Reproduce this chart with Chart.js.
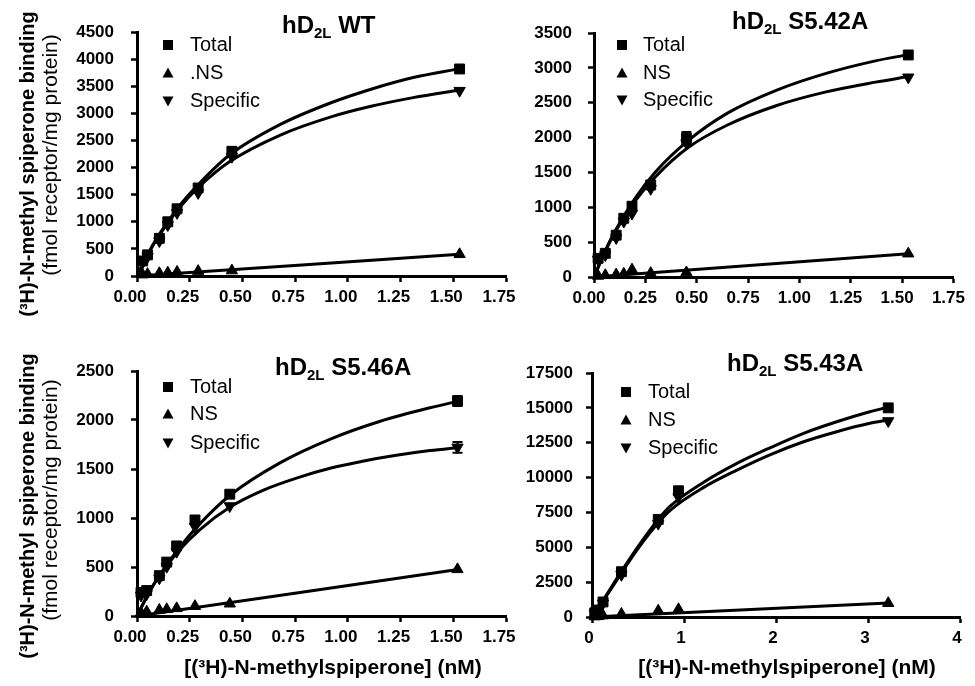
<!DOCTYPE html>
<html>
<head>
<meta charset="utf-8">
<script src="https://cdn.jsdelivr.net/npm/chart.js@4.4.1/dist/chart.umd.min.js"></script>
<style>
  html, body { margin: 0; padding: 0; background: #fff; }
  #wrap { position: relative; width: 975px; height: 686px; overflow: hidden; }
  canvas { position: absolute; }
</style>
</head>
<body>
<div id="wrap">
  <canvas id="c1" width="540" height="330" style="left:0px;top:0px;"></canvas>
  <canvas id="c2" width="505" height="330" style="left:470px;top:0px;"></canvas>
  <canvas id="c3" width="540" height="356" style="left:0px;top:330px;"></canvas>
  <canvas id="c4" width="505" height="356" style="left:470px;top:330px;"></canvas>
</div>
<script>
// hD2L WT
const wtConc = [0.027, 0.05, 0.106, 0.146, 0.19, 0.29, 0.45, 1.53];
const wtTotal = [277, 390, 695, 1000, 1240, 1623, 2300, 3818];
const wtNS = [25, 35, 50, 60, 75, 90, 100, 400];
const wtSpecific = [250, 355, 645, 940, 1165, 1533, 2200, 3418];
const wtTotalErr = [0, 0, 0, 0, 0, 0, 70, 0];
const wtFitConc = [0, 0.05, 0.1, 0.2, 0.3, 0.44, 0.68, 0.92, 1.11, 1.31, 1.53];
const wtTotalFit = [0, 395, 735, 1290, 1725, 2235, 2795, 3195, 3445, 3660, 3825];
const wtSpecificFit = [0, 385, 720, 1255, 1665, 2110, 2600, 2935, 3130, 3290, 3430];
const wtNSFitConc = [0, 1.53];
const wtNSFit = [0, 400];

// hD2L S5.42A
const s42Conc = [0.02, 0.055, 0.108, 0.145, 0.185, 0.276, 0.45, 1.53];
const s42Total = [268, 340, 600, 842, 1015, 1320, 1990, 3185];
const s42NS = [15, 25, 35, 45, 105, 55, 65, 335];
const s42Specific = [250, 315, 560, 795, 910, 1265, 1920, 2865];
const s42TotalErr = [0, 0, 0, 0, 0, 0, 90, 0];
const s42FitConc = [0, 0.05, 0.1, 0.2, 0.3, 0.46, 0.65, 0.89, 1.13, 1.37, 1.53];
const s42TotalFit = [0, 345, 645, 1130, 1510, 1960, 2350, 2680, 2920, 3100, 3190];
const s42SpecificFit = [0, 335, 630, 1090, 1440, 1860, 2180, 2460, 2655, 2795, 2875];
const s42NSFitConc = [0, 1.53];
const s42NSFit = [0, 335];

// hD2L S5.46A
const s46Conc = [0.019, 0.046, 0.106, 0.141, 0.188, 0.275, 0.44, 1.52];
const s46Total = [240, 260, 412, 550, 715, 980, 1243, 2194];
const s46NS = [34, 44, 61, 68, 78, 100, 125, 476];
const s46Specific = [210, 225, 385, 503, 656, 911, 1122, 1721];
const s46TotalErr = [0, 0, 0, 0, 0, 0, 0, 50];
const s46SpecificErr = [0, 0, 0, 0, 0, 0, 0, 55];
const s46TotalFitConc = [0, 0.05, 0.1, 0.2, 0.3, 0.44, 0.68, 0.92, 1.15, 1.39, 1.53];
const s46TotalFit = [0, 212, 395, 695, 945, 1230, 1565, 1808, 1985, 2125, 2195];
const s46SpecificFitConc = [0, 0.05, 0.1, 0.2, 0.3, 0.44, 0.6, 0.76, 0.92, 1.07, 1.23, 1.39, 1.53];
const s46SpecificFit = [0, 210, 390, 670, 885, 1110, 1285, 1410, 1510, 1580, 1640, 1688, 1721];
const s46NSFitConc = [0, 1.53];
const s46NSFit = [0, 476];

// hD2L S5.43A
const s43Conc = [0.03, 0.07, 0.12, 0.32, 0.72, 0.94, 3.22];
const s43Total = [300, 500, 1080, 3250, 7000, 9050, 15000];
const s43NS = [30, 50, 100, 215, 450, 550, 990];
const s43Specific = [270, 450, 980, 3030, 6700, 8600, 14060];
const s43TotalErr = [0, 0, 0, 0, 0, 300, 0];
const s43FitConc = [0, 0.12, 0.32, 0.5, 0.72, 0.85, 1.21, 1.57, 1.94, 2.3, 2.66, 3.02, 3.22];
const s43TotalFit = [0, 1200, 3270, 5050, 7000, 7950, 9650, 11000, 12150, 13175, 14000, 14720, 15050];
const s43SpecificFit = [0, 1150, 3150, 4900, 6750, 7650, 9280, 10520, 11650, 12570, 13290, 13890, 14130];
const s43NSFitConc = [0, 3.22];
const s43NSFit = [0, 1000];

const FONT = '"Liberation Sans", Arial, Helvetica, sans-serif';

function pts(xs, ys) {
    return xs.map((x, i) => ({ x: x, y: ys[i] }));
}

// titles, legend, axis titles
const deco = {
    id: 'deco',
    afterDraw(chart, args, o) {
        const ctx = chart.ctx;
        ctx.save();
        ctx.fillStyle = '#000';

        // title with subscript 2L
        ctx.textAlign = 'left';
        ctx.textBaseline = 'alphabetic';
        let x = o.titleX;
        ctx.font = 'bold 24px ' + FONT;
        ctx.fillText('hD', x, o.titleY);
        x += ctx.measureText('hD').width;
        ctx.font = 'bold 15px ' + FONT;
        ctx.fillText('2L', x, o.titleY + 5);
        x += ctx.measureText('2L').width;
        ctx.font = 'bold 24px ' + FONT;
        ctx.fillText(' ' + o.title, x, o.titleY);

        // legend
        ctx.textBaseline = 'middle';
        ctx.font = '20px ' + FONT;
        const items = chart.data.datasets.filter(d => d.label);
        items.forEach((d, i) => {
            const y = o.legendRows[i];
            const mx = o.legendX;
            ctx.beginPath();
            if (d.pointStyle === 'rect') {
                ctx.rect(mx - 5, y - 5, 10, 10);
            } else if (d.pointRotation === 180) {
                ctx.moveTo(mx - 5.5, y - 4.5);
                ctx.lineTo(mx + 5.5, y - 4.5);
                ctx.lineTo(mx, y + 5.5);
            } else {
                ctx.moveTo(mx - 5.5, y + 4.5);
                ctx.lineTo(mx + 5.5, y + 4.5);
                ctx.lineTo(mx, y - 5.5);
            }
            ctx.closePath();
            ctx.fill();
            ctx.fillText(d.label, o.legendTextX, y);
        });

        // y axis title (two lines)
        if (o.yTitle) {
            ctx.textAlign = 'center';
            ctx.save();
            ctx.translate(o.yTitle[0], o.yTitle[1]);
            ctx.rotate(-Math.PI / 2);
            ctx.font = 'bold 20px ' + FONT;
            ctx.fillText('(\u00B3H)-N-methyl spiperone binding', 0, 0);
            ctx.restore();
            ctx.save();
            ctx.translate(o.yTitle[2], o.yTitle[3]);
            ctx.rotate(-Math.PI / 2);
            ctx.font = '21px ' + FONT;
            ctx.fillText('(fmol receptor/mg protein)', 0, 0);
            ctx.restore();
        }

        // x axis title
        if (o.xTitle) {
            ctx.textAlign = 'center';
            ctx.font = 'bold 21px ' + FONT;
            ctx.fillText('[(\u00B3H)-N-methylspiperone] (nM)', o.xTitle[0], o.xTitle[1]);
        }
        ctx.restore();
    }
};

// small error bars
const errorBars = {
    id: 'errorBars',
    afterDatasetsDraw(chart) {
        const ctx = chart.ctx;
        const ys = chart.scales.y;
        ctx.save();
        ctx.strokeStyle = '#000';
        ctx.lineWidth = 2;
        chart.data.datasets.forEach((d, di) => {
            if (!d.errors) return;
            const meta = chart.getDatasetMeta(di);
            meta.data.forEach((p, i) => {
                const e = d.errors[i];
                if (!e) return;
                const v = d.data[i].y;
                const y1 = ys.getPixelForValue(v + e);
                const y2 = ys.getPixelForValue(v - e);
                ctx.beginPath();
                ctx.moveTo(p.x, y1); ctx.lineTo(p.x, y2);
                ctx.moveTo(p.x - 5, y1); ctx.lineTo(p.x + 5, y1);
                ctx.moveTo(p.x - 5, y2); ctx.lineTo(p.x + 5, y2);
                ctx.stroke();
            });
        });
        ctx.restore();
    }
};

function makePanel(id, p) {
    const canvas = document.getElementById(id);
    const W = canvas.width, H = canvas.height;
    const marker = { backgroundColor: '#000', borderColor: '#000', pointBorderWidth: 1, showLine: false, clip: false };
    const fit = { showLine: true, pointRadius: 0, borderColor: '#000', borderWidth: 3, cubicInterpolationMode: 'monotone', fill: false };
    return new Chart(canvas, {
        type: 'scatter',
        data: {
            datasets: [
                Object.assign({ label: 'Total', data: pts(p.conc, p.total), pointStyle: 'rect', pointRadius: 7, errors: p.totalErr }, marker),
                Object.assign({ label: p.nsLabel, data: pts(p.conc, p.ns), pointStyle: 'triangle', pointRadius: 6.5 }, marker),
                Object.assign({ label: 'Specific', data: pts(p.conc, p.specific), pointStyle: 'triangle', pointRotation: 180, pointRadius: 6.5, errors: p.specificErr }, marker),
                Object.assign({ data: pts(p.totalFitConc, p.totalFit) }, fit),
                Object.assign({ data: pts(p.specificFitConc, p.specificFit) }, fit),
                Object.assign({ data: pts(p.nsFitConc, p.nsFit) }, fit)
            ]
        },
        options: {
            responsive: false,
            animation: false,
            events: [],
            layout: {
                autoPadding: false,
                padding: { left: 0, top: p.area[1], right: W - p.area[2], bottom: H - p.area[3] - 40 }
            },
            plugins: {
                legend: { display: false },
                tooltip: { enabled: false },
                deco: p.deco
            },
            scales: {
                x: {
                    type: 'linear',
                    min: 0,
                    max: p.xMax,
                    border: { color: '#000', width: 3 },
                    grid: { drawOnChartArea: false, color: '#000', tickColor: '#000', tickLength: 6, tickWidth: 2.5 },
                    ticks: {
                        stepSize: p.xStep,
                        autoSkip: false,
                        maxRotation: 0,
                        color: '#000',
                        padding: 5,
                        labelOffset: p.xLabelOffset,
                        font: { family: FONT, size: 17, weight: 'bold' },
                        callback: v => v.toFixed(p.xDec)
                    },
                    afterFit(s) { s.height = 40; }
                },
                y: {
                    type: 'linear',
                    min: 0,
                    max: p.yMax,
                    border: { color: '#000', width: 3 },
                    grid: { drawOnChartArea: false, color: '#000', tickColor: '#000', tickLength: 6, tickWidth: 2.5 },
                    ticks: {
                        stepSize: p.yStep,
                        autoSkip: false,
                        color: '#000',
                        padding: p.yPad,
                        font: { family: FONT, size: 17, weight: 'bold' },
                        callback: v => String(v)
                    },
                    afterFit(s) { s.width = p.area[0]; }
                }
            }
        },
        plugins: [errorBars, deco]
    });
}

makePanel('c1', {
    conc: wtConc, total: wtTotal, ns: wtNS, specific: wtSpecific, nsLabel: '.NS',
    totalErr: wtTotalErr,
    totalFitConc: wtFitConc, totalFit: wtTotalFit,
    specificFitConc: wtFitConc, specificFit: wtSpecificFit,
    nsFitConc: wtNSFitConc, nsFit: wtNSFit,
    xMax: 1.75, xStep: 0.25, xDec: 2, xLabelOffset: -7,
    yMax: 4500, yStep: 500, yPad: 17,
    area: [137, 32, 506, 276],
    deco: { title: 'WT', titleX: 282, titleY: 33, legendX: 168, legendTextX: 190, legendRows: [45, 73, 101], yTitle: [28, 164, 51, 155] }
});

makePanel('c2', {
    conc: s42Conc, total: s42Total, ns: s42NS, specific: s42Specific, nsLabel: 'NS',
    totalErr: s42TotalErr,
    totalFitConc: s42FitConc, totalFit: s42TotalFit,
    specificFitConc: s42FitConc, specificFit: s42SpecificFit,
    nsFitConc: s42NSFitConc, nsFit: s42NSFit,
    xMax: 1.75, xStep: 0.25, xDec: 2, xLabelOffset: -5,
    yMax: 3500, yStep: 500, yPad: 16,
    area: [124, 33, 490, 277],
    deco: { title: 'S5.42A', titleX: 262, titleY: 29, legendX: 152, legendTextX: 173, legendRows: [45, 73, 100] }
});

makePanel('c3', {
    conc: s46Conc, total: s46Total, ns: s46NS, specific: s46Specific, nsLabel: 'NS',
    totalErr: s46TotalErr, specificErr: s46SpecificErr,
    totalFitConc: s46TotalFitConc, totalFit: s46TotalFit,
    specificFitConc: s46SpecificFitConc, specificFit: s46SpecificFit,
    nsFitConc: s46NSFitConc, nsFit: s46NSFit,
    xMax: 1.75, xStep: 0.25, xDec: 2, xLabelOffset: -7,
    yMax: 2500, yStep: 500, yPad: 17,
    area: [137, 41, 506, 286],
    deco: { title: 'S5.46A', titleX: 275, titleY: 45, legendX: 168, legendTextX: 190, legendRows: [57, 84, 113], yTitle: [28, 176, 51, 170], xTitle: [333, 338] }
});

makePanel('c4', {
    conc: s43Conc, total: s43Total, ns: s43NS, specific: s43Specific, nsLabel: 'NS',
    totalErr: s43TotalErr,
    totalFitConc: s43FitConc, totalFit: s43TotalFit,
    specificFitConc: s43FitConc, specificFit: s43SpecificFit,
    nsFitConc: s43NSFitConc, nsFit: s43NSFit,
    xMax: 4, xStep: 1, xDec: 0, xLabelOffset: -3,
    yMax: 17500, yStep: 2500, yPad: 13,
    area: [122, 43, 490, 287],
    deco: { title: 'S5.43A', titleX: 257, titleY: 41, legendX: 156, legendTextX: 178, legendRows: [62, 90, 118], xTitle: [317, 338] }
});
</script>
</body>
</html>
